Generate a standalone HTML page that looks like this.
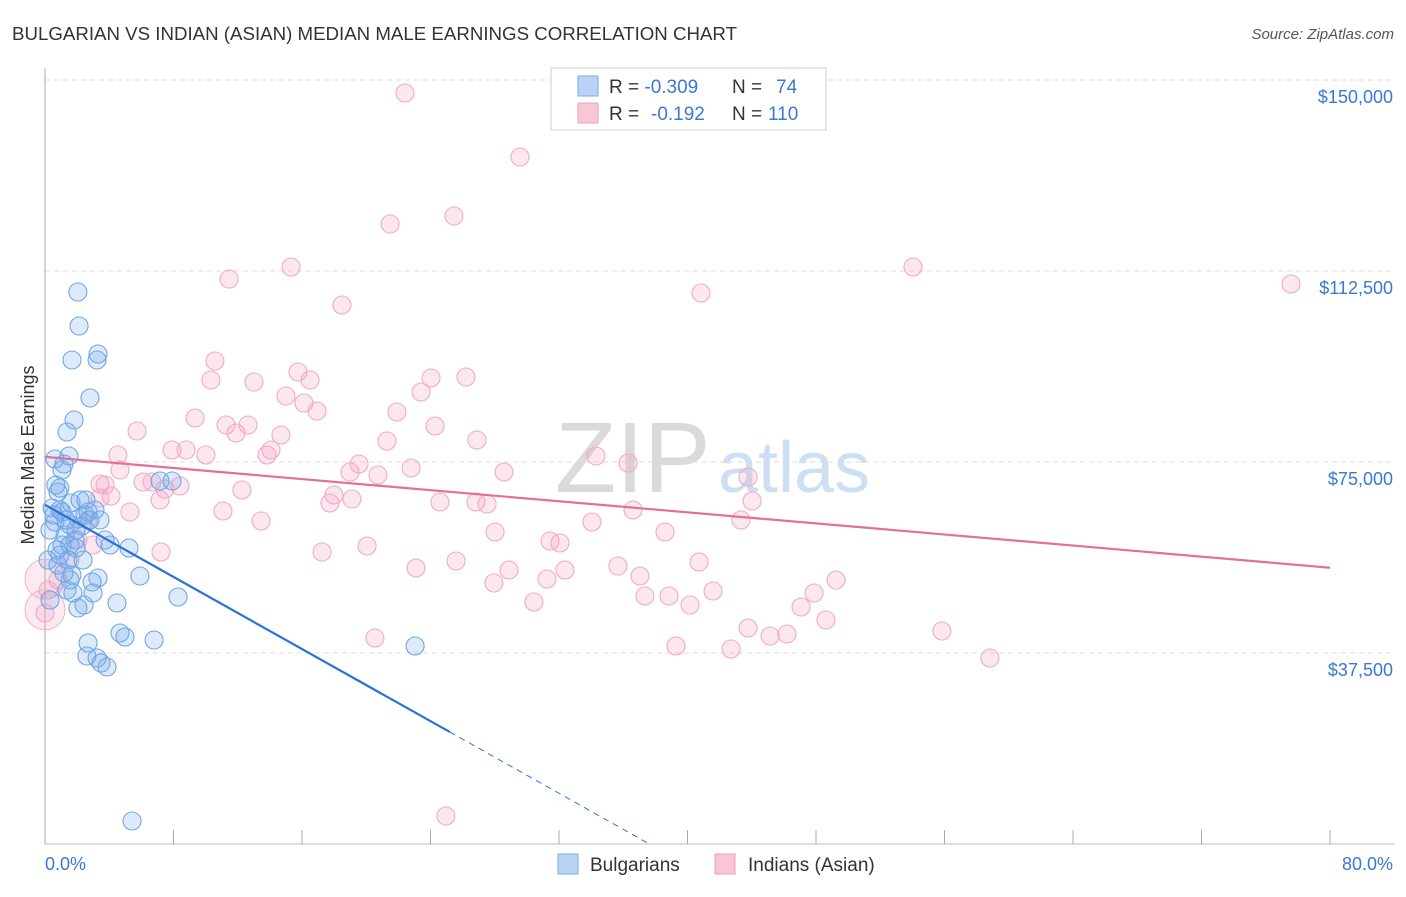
<!DOCTYPE html>
<html><head><meta charset="utf-8"><style>
body{margin:0;background:#fff;font-family:"Liberation Sans",sans-serif}
svg text{font-family:"Liberation Sans",sans-serif}
</style></head><body>
<svg id="chart" width="1406" height="892" xmlns="http://www.w3.org/2000/svg">
<text x="12" y="40" font-size="18" fill="#333" textLength="725" lengthAdjust="spacingAndGlyphs">BULGARIAN VS INDIAN (ASIAN) MEDIAN MALE EARNINGS CORRELATION CHART</text>
<text x="1394" y="39" font-size="15" fill="#555" font-style="italic" text-anchor="end">Source: ZipAtlas.com</text>
<text x="555" y="492" font-size="100" fill="#dadada" font-family="Liberation Serif">ZIP</text>
<text x="718" y="492" font-size="72" fill="#cddff2">atlas</text>
<g id="grid"></g>
<g id="axes"></g>
<g id="pts"></g>
<g id="trends"></g>
<text transform="translate(34,455) rotate(-90)" font-size="18" fill="#333" text-anchor="middle">Median Male Earnings</text>
<text x="45" y="870" font-size="18" fill="#3b78d4">0.0%</text>
<text x="1393" y="870" font-size="18" fill="#3b78d4" text-anchor="end">80.0%</text>
<g>
<rect x="551" y="68" width="275" height="62" fill="#fff" stroke="#ccc"/>
<rect x="578" y="76" width="20" height="20" fill="#b9d3f5" stroke="#7aa8e8"/>
<rect x="578" y="103" width="20" height="20" fill="#f9c6d6" stroke="#ee9fba"/>
<text x="609" y="93" font-size="19" fill="#333">R = <tspan fill="#3b78d4">-0.309</tspan><tspan x="732">N = </tspan><tspan x="776" fill="#3b78d4">74</tspan></text>
<text x="609" y="120" font-size="19" fill="#333">R = <tspan x="651" fill="#3b78d4">-0.192</tspan><tspan x="732">N = </tspan><tspan x="768" fill="#3b78d4">110</tspan></text>
</g>
<g>
<rect x="558" y="854" width="20" height="20" fill="#b9d3f5" stroke="#7aa8e8"/>
<text x="590" y="871" font-size="19" fill="#333">Bulgarians</text>
<rect x="715" y="854" width="20" height="20" fill="#f9c6d6" stroke="#ee9fba"/>
<text x="748" y="871" font-size="19" fill="#333">Indians (Asian)</text>
</g>
</svg>
<script>
const yTicks=[37500,75000,112500,150000];
const yTickLabels=["$37,500","$75,000","$112,500","$150,000"];
const xTicks=[0,8,16,24,32,40,48,56,64,72,80];
const bluePx=[[78,292],[79,326],[72,360],[98,354],[97,360],[90,398],[74,420],[67,432],[55,459],[69,456],[64,464],[60,488],[58,492],[71,503],[52,508],[60,510],[95,510],[85,515],[78,519],[88,512],[70,525],[55,522],[50,530],[65,535],[82,526],[62,545],[75,540],[105,540],[57,550],[129,548],[68,560],[72,575],[70,580],[98,578],[92,582],[140,576],[67,590],[93,593],[73,593],[78,608],[84,605],[117,603],[178,597],[120,633],[125,637],[154,640],[88,643],[87,656],[97,658],[101,663],[107,667],[415,646],[132,821],[160,481],[172,481],[76,548],[58,565],[50,600],[62,512],[80,500],[66,520],[54,515],[76,530],[90,520],[48,560],[64,573],[100,520],[86,500],[62,470],[56,485],[70,545],[60,555],[83,560],[110,545]];
const pinkPx=[[405,93],[520,157],[454,216],[390,224],[913,267],[291,267],[1291,284],[701,293],[229,279],[342,305],[215,361],[211,380],[254,382],[298,372],[310,380],[286,396],[304,403],[317,411],[431,378],[466,377],[421,392],[397,412],[195,418],[226,425],[137,431],[236,433],[248,425],[281,435],[172,450],[186,450],[206,455],[267,455],[271,450],[387,441],[435,426],[477,440],[118,455],[359,464],[350,472],[378,475],[411,468],[504,472],[596,456],[628,463],[748,477],[100,484],[143,482],[152,482],[180,486],[165,489],[242,490],[334,495],[330,503],[352,499],[440,502],[476,502],[487,504],[111,496],[130,512],[223,511],[261,521],[752,501],[741,520],[592,522],[633,510],[665,532],[495,532],[550,541],[560,543],[367,546],[322,552],[161,552],[456,561],[509,570],[416,568],[565,570],[618,566],[699,562],[640,576],[547,579],[494,583],[645,596],[669,596],[713,591],[836,580],[814,593],[690,605],[801,607],[534,602],[826,620],[748,628],[770,636],[787,634],[942,631],[375,638],[676,646],[731,649],[990,658],[446,816],[105,485],[88,520],[78,540],[93,545],[70,560],[58,580],[48,590],[45,613],[100,498],[120,470],[160,500]];
const blueX=bluePx.map(p=>+((p[0]-45)*80/1285).toFixed(2));
const blueY=bluePx.map(p=>Math.round((844-p[1])*150000/764));
const pinkX=pinkPx.map(p=>+((p[0]-45)*80/1285).toFixed(2));
const pinkY=pinkPx.map(p=>Math.round((844-p[1])*150000/764));
const pinkBig=[[0,52000],[0,46000]];
const blueTrend=[66600,-1770];
const pinkTrend=[76000,-272];
const X=v=>45+v/80*1285, Y=v=>844-v/150000*764;
const NS="http://www.w3.org/2000/svg";
function mk(t,a,p){const e=document.createElementNS(NS,t);for(const k in a)e.setAttribute(k,a[k]);p.appendChild(e);return e;}
const grid=document.getElementById('grid'),axes=document.getElementById('axes'),pts=document.getElementById('pts'),tr=document.getElementById('trends');
yTicks.forEach((v,i)=>{
 const l=mk('line',{x1:45,x2:1394,y1:Y(v),y2:Y(v),stroke:'#ddd','stroke-dasharray':'5,4'},grid);
 
 
 const t=mk('text',{x:1393,y:Y(v)+23,'font-size':18,fill:'#3b78d4','text-anchor':'end'},grid);
 t.textContent=yTickLabels[i];
 
 
});
const ax=mk('line',{x1:45,x2:45,y1:68,y2:844,stroke:'#aaa'},axes);


const bx=mk('line',{x1:45,x2:1394,y1:844,y2:844,stroke:'#bbb'},axes);


xTicks.forEach(v=>{const t=mk('line',{x1:X(v),x2:X(v),y1:830,y2:844,stroke:'#aaa'},axes);
 
 });
pinkX.forEach((x,i)=>{const c=mk('circle',{cx:X(x),cy:Y(pinkY[i]),r:9,fill:'rgba(244,160,190,0.25)',stroke:'#f0abc3','stroke-width':1.1},pts);
 
 });
pinkBig.forEach(p=>{const c=mk('circle',{cx:X(p[0]),cy:Y(p[1]),r:20,fill:'rgba(244,160,190,0.22)',stroke:'#f2b3c8'},pts);
 
 });
blueX.forEach((x,i)=>{const c=mk('circle',{cx:X(x),cy:Y(blueY[i]),r:9,fill:'rgba(120,170,235,0.25)',stroke:'#6fa6e6','stroke-width':1.1},pts);
 
 });
const bv=x=>blueTrend[0]+blueTrend[1]*x, pv=x=>pinkTrend[0]+pinkTrend[1]*x;
const xz=-blueTrend[0]/blueTrend[1];
const l1=mk('line',{x1:X(0),y1:Y(bv(0)),x2:X(25.2),y2:Y(bv(25.2)),stroke:'#2a72d8','stroke-width':2.2},tr);


const l2=mk('line',{x1:X(25.2),y1:Y(bv(25.2)),x2:X(xz),y2:Y(0),stroke:'#2a72d8','stroke-width':1,'stroke-dasharray':'6,5'},tr);


const l3=mk('line',{x1:X(0),y1:Y(pv(0)),x2:X(80),y2:Y(pv(80)),stroke:'#e4709a','stroke-width':2.2},tr);


</script>
</body></html>
